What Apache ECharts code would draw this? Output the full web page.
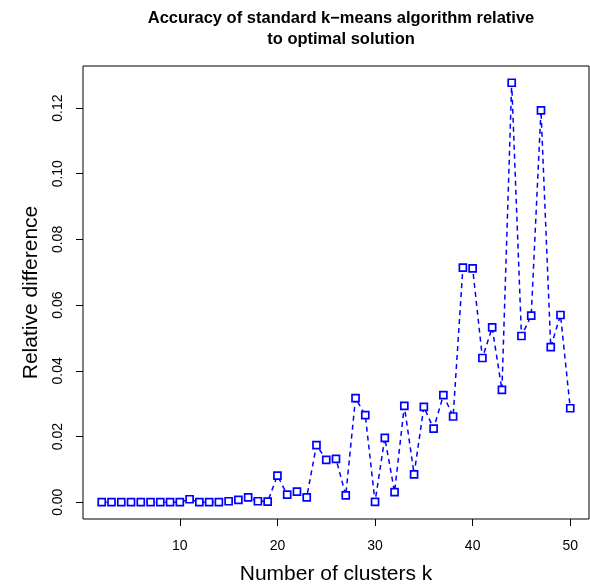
<!DOCTYPE html>
<html>
<head>
<meta charset="utf-8">
<script src="https://cdn.jsdelivr.net/npm/echarts@6/dist/echarts.min.js"></script>
<style>html,body{margin:0;padding:0;background:#fff}#c{width:590px;height:588px}</style>
</head>
<body>
<div id="c"></div>
<script>
var clustersK = [2,3,4,5,6,7,8,9,10,11,12,13,14,15,16,17,18,19,20,21,22,23,24,25,26,27,28,29,30,31,32,33,34,35,36,37,38,39,40,41,42,43,44,45,46,47,48,49,50];
var relativeDifference = [0,0,0,0,0,0,0,0,0,0.0009,0,0,0,0.0003,0.0007,0.0015,0.0003,0.0002,0.0081,0.0023,0.0032,0.0015,0.0174,0.0129,0.0132,0.0021,0.0317,0.0265,0.0001,0.0196,0.0031,0.0293,0.0085,0.0290,0.0224,0.0326,0.0261,0.0714,0.0712,0.0439,0.0532,0.0342,0.1277,0.0506,0.0568,0.1193,0.0472,0.0570,0.0286];
var xTicks = [10,20,30,40,50];
var yTicks = [0,0.02,0.04,0.06,0.08,0.10,0.12];

var font = '"Liberation Sans", Arial, Helvetica, sans-serif';
var data = clustersK.map(function(k,i){return [k, relativeDifference[i]];});
var chart = echarts.init(document.getElementById('c'), null, {renderer:'canvas'});
chart.setOption({
  animation:false,
  backgroundColor:'#fff',
  title:{
    text:'Accuracy of standard k\u2212means algorithm relative\nto optimal solution',
    left:336, top:3, textAlign:'center',
    textStyle:{fontFamily:font, fontSize:16.5, fontWeight:'bold', color:'#000', lineHeight:21}
  },
  grid:{left:83, right:1, top:66, bottom:69, containLabel:false, outerBoundsMode:'none',
    show:true, borderColor:'#000', borderWidth:1, backgroundColor:'transparent'},
  xAxis:{
    type:'value', min:0.08, max:51.92,
    name:'Number of clusters k', nameLocation:'middle', nameGap:45,
    nameTextStyle:{fontFamily:font, fontSize:21, color:'#000'},
    axisLine:{show:false, onZero:false},
    splitLine:{show:false},
    axisTick:{show:true, inside:false, length:7, customValues:xTicks, lineStyle:{color:'#000', width:1}},
    axisLabel:{show:true, margin:20, customValues:xTicks, fontFamily:font, fontSize:14, color:'#000',
      formatter:function(v){return String(v);}}
  },
  yAxis:{
    type:'value', min:-0.00511, max:0.1328,
    name:'Relative difference', nameLocation:'middle', nameGap:41,
    nameTextStyle:{fontFamily:font, fontSize:21, color:'#000'},
    axisLine:{show:false, onZero:false},
    splitLine:{show:false},
    axisTick:{show:true, inside:false, length:7, customValues:yTicks, lineStyle:{color:'#000', width:1}},
    axisLabel:{show:true, rotate:90, margin:18, customValues:yTicks, fontFamily:font, fontSize:14, color:'#000',
      formatter:function(v){return v.toFixed(2);}}
  },
  series:[{
    type:'line',
    data:data,
    symbol:'rect',
    symbolSize:7,
    showAllSymbol:true,
    itemStyle:{color:'#fff', borderColor:'#0000ff', borderWidth:1.7},
    lineStyle:{color:'#0000ff', width:1.5, type:[5,4]},
    z:3
  }]
});
</script>
</body>
</html>
